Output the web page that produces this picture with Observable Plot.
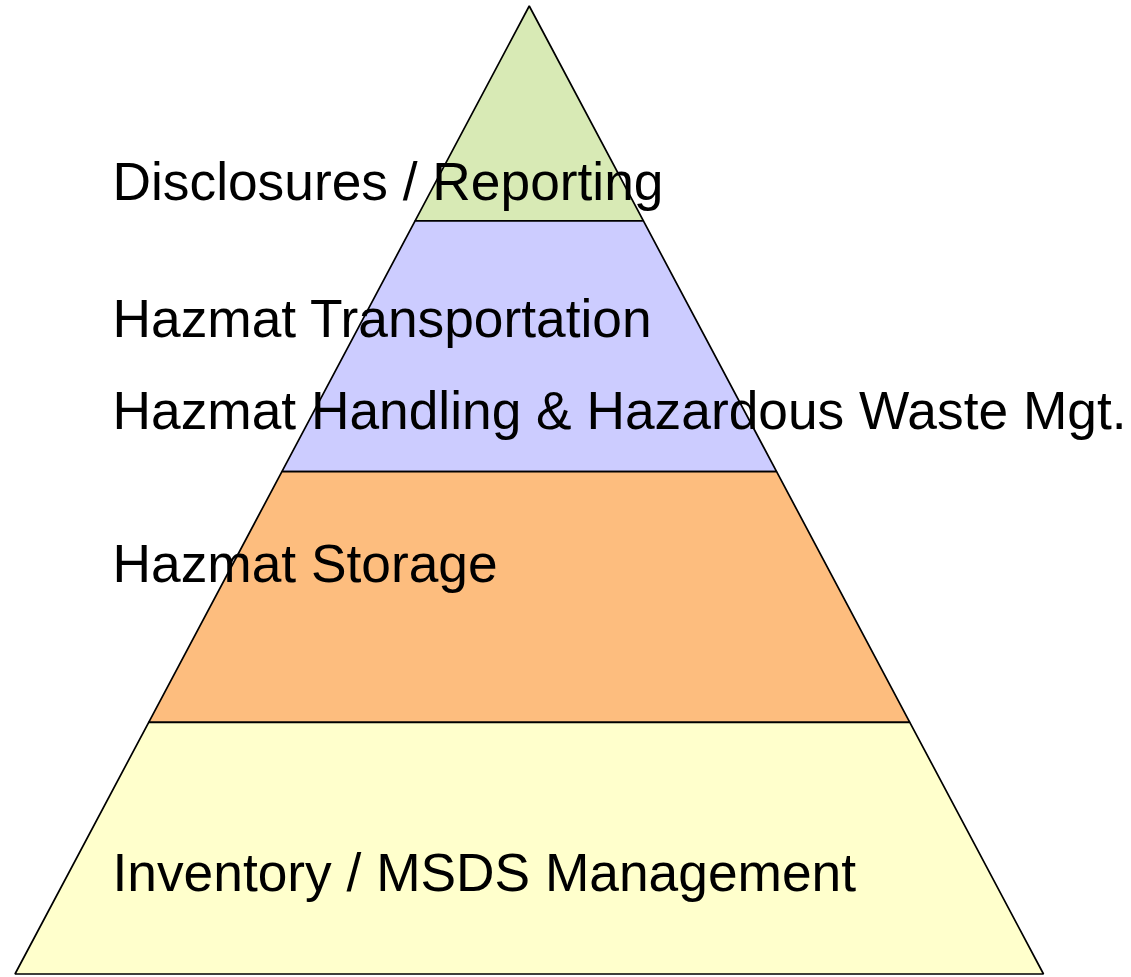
<!DOCTYPE html>
<html>
<head>
<meta charset="utf-8">
<script src="https://cdn.jsdelivr.net/npm/d3@7"></script>
<script src="https://cdn.jsdelivr.net/npm/@observablehq/plot@0.6"></script>
<style>
  html, body { margin: 0; padding: 0; background: #fff; }
  svg { overflow: visible; display: block; }
</style>
</head>
<body>
<div id="chart"></div>
<script>
// Pyramid layers, top to bottom; boundaries are fractions of pyramid height from apex
const layers = ["Reporting", "Transport & Handling", "Storage", "Inventory"];
const layerTop = [0, 0.222, 0.481, 0.740];
const layerBottom = [0.222, 0.481, 0.740, 1.0];
const layerColors = ["#d8eab5", "#ccccff", "#fdbd7e", "#ffffcc"];

// Labels and their vertical position (fraction of pyramid height, baseline)
const labelTexts = [
  "Disclosures / Reporting",
  "Hazmat Transportation",
  "Hazmat Handling & Hazardous Waste Mgt.",
  "Hazmat Storage",
  "Inventory / MSDS Management"
];
const labelY = [0.2004, 0.3416, 0.4363, 0.5947, 0.914];

const bandPoints = layers.flatMap((name, i) => [
  {layer: name, y: layerTop[i], x1: -layerTop[i], x2: layerTop[i]},
  {layer: name, y: layerBottom[i], x1: -layerBottom[i], x2: layerBottom[i]}
]);
const labels = labelTexts.map((t, i) => ({text: t, y: labelY[i]}));

const chart = Plot.plot({
  width: 1131,
  height: 977,
  marginLeft: 15,
  marginRight: 87.5,
  marginTop: 6,
  marginBottom: 3,
  x: {domain: [-1, 1], axis: null},
  y: {domain: [0, 1], reverse: true, axis: null},
  color: {domain: layers, range: layerColors},
  marks: [
    Plot.areaX(bandPoints, {
      y: "y", x1: "x1", x2: "x2", z: "layer",
      fill: "layer", stroke: "black", strokeWidth: 1.7, strokeLinejoin: "miter"
    }),
    Plot.text(labels, {
      y: "y", text: "text",
      frameAnchor: "left", dx: 97,
      textAnchor: "start", lineAnchor: "bottom",
      fontSize: 53.3, fontFamily: "Liberation Sans, Arial, sans-serif",
      fill: "black"
    })
  ]
});
document.getElementById("chart").appendChild(chart);
</script>
</body>
</html>
